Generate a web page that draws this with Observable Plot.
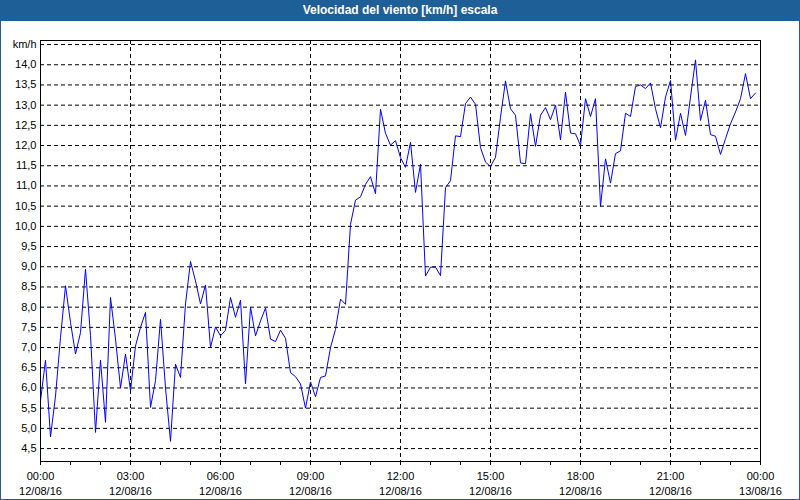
<!DOCTYPE html>
<html>
<head>
<meta charset="utf-8">
<script src="https://cdn.jsdelivr.net/npm/d3@7"></script>
<script src="https://cdn.jsdelivr.net/npm/@observablehq/plot@0.6"></script>
<style>
  html, body { margin: 0; padding: 0; background: #ffffff; }
  #wrap { position: relative; width: 800px; height: 500px; overflow: hidden; background: #ffffff; }
  #title { position: absolute; left: 0; top: 0; width: 800px; height: 21px; background: #1f5f97;
           color: #ffffff; font: bold 12px "Liberation Sans", Arial, sans-serif; text-align: center; line-height: 21px; }
  #chart { position: absolute; left: 0; top: 20px; }
  #border { position: absolute; left: 0; top: 0; width: 798px; height: 498px; border: 1px solid #1f5f97; pointer-events: none; }
</style>
</head>
<body>
<div id="wrap">
  <div id="title">Velocidad del viento [km/h] escala</div>
  <div id="chart"></div>
  <div id="border"></div>
</div>
<script>
// Series start and sampling step (10 minutes)
const startTime = "2016-08-12T00:00:00Z";
const endTime = "2016-08-13T00:00:00Z";
const stepMinutes = 10;

// Wind speed (km/h), one value every 10 minutes from 00:00 to 23:50
const windSpeed = [
  5.68, 6.69, 4.79, 5.80, 7.25, 8.53, 7.62, 6.84, 7.37, 8.94, 7.30, 4.90,
  6.69, 5.15, 8.24, 7.21, 6.00, 6.84, 5.93, 7.04, 7.50, 7.87, 5.52, 6.18,
  7.70, 6.00, 4.68, 6.59, 6.26, 8.08, 9.13, 8.65, 8.08, 8.55, 7.00, 7.51,
  7.29, 7.43, 8.24, 7.75, 8.17, 6.10, 8.00, 7.29, 7.66, 7.98, 7.21, 7.15,
  7.43, 7.23, 6.38, 6.28, 6.10, 5.50, 6.15, 5.78, 6.26, 6.30, 7.00, 7.45,
  8.20, 8.07, 10.05, 10.65, 10.73, 11.04, 11.23, 10.81, 12.90, 12.30, 12.01, 12.12,
  11.70, 11.46, 12.08, 10.84, 11.54, 8.77, 8.99, 8.99, 8.78, 10.96, 11.13, 12.24,
  12.22, 13.04, 13.20, 13.02, 11.95, 11.59, 11.48, 11.71, 12.70, 13.60, 12.91, 12.75,
  11.57, 11.55, 12.79, 11.98, 12.75, 12.94, 12.64, 13.00, 12.14, 13.32, 12.31, 12.29,
  12.00, 13.16, 12.72, 13.16, 10.49, 11.67, 11.07, 11.80, 11.87, 12.80, 12.72, 13.46,
  13.50, 13.41, 13.55, 12.91, 12.44, 13.20, 13.61, 12.13, 12.80, 12.25, 13.20, 14.12,
  12.62, 13.12, 12.27, 12.23, 11.78, 12.17, 12.54, 12.83, 13.16, 13.78, 13.16, 13.30
];

// Axis ticks
const yTicks = [4.5, 5.0, 5.5, 6.0, 6.5, 7.0, 7.5, 8.0, 8.5, 9.0, 9.5, 10.0, 10.5, 11.0, 11.5, 12.0, 12.5, 13.0, 13.5, 14.0, 14.5];
const yUnitLabel = "km/h";
const xMajorHours = [0, 3, 6, 9, 12, 15, 18, 21, 24];
const xMinorHours = [0, 1, 2, 3, 4, 5, 6, 7, 8, 9, 10, 11, 12, 13, 14, 15, 16, 17, 18, 19, 20, 21, 22, 23, 24];

const t0 = new Date(startTime);
const t1 = new Date(endTime);
const hourDate = h => new Date(t0.getTime() + h * 3600000);
const data = windSpeed.map((v, i) => ({ time: new Date(t0.getTime() + i * stepMinutes * 60000), speed: v }));

const pad = n => String(n).padStart(2, "0");
const xFmt = d => `${pad(d.getUTCHours())}:${pad(d.getUTCMinutes())}\n${pad(d.getUTCDate())}/${pad(d.getUTCMonth() + 1)}/${pad(d.getUTCFullYear() % 100)}`;
const yFmt = v => v === 14.5 ? yUnitLabel : v.toFixed(1).replace(".", ",");

const majorDates = xMajorHours.map(hourDate);
const minorDates = xMinorHours.map(hourDate);
const gridDates = majorDates.slice(1, -1);

const chart = Plot.plot({
  width: 800,
  height: 480,
  marginTop: 20,
  marginBottom: 39,
  marginLeft: 40,
  marginRight: 40,
  style: { fontFamily: "'Liberation Sans', Arial, sans-serif", fontSize: "11px", background: "transparent", color: "#000" },
  x: { type: "utc", domain: [t0, t1] },
  y: { domain: [4.18, 14.6] },
  marks: [
    Plot.ruleY(yTicks, { stroke: "#000", strokeDasharray: "4,3", strokeWidth: 1 }),
    Plot.ruleX(gridDates, { stroke: "#000", strokeDasharray: "4,3", strokeWidth: 1 }),
    Plot.axisY({ ticks: yTicks, tickFormat: yFmt, tickSize: 0, tickPadding: 4, label: null, fill: "#000" }),
    Plot.axisX({ ticks: minorDates, tickFormat: () => "", tickSize: 4, label: null, stroke: "#000" }),
    Plot.axisX({ ticks: majorDates, tickFormat: xFmt, tickSize: 4, tickPadding: 4, lineHeight: 1.35, label: null, stroke: "#000", fill: "#000" }),
    Plot.line(data, { x: "time", y: "speed", stroke: "#0000ff", strokeWidth: 1 }),
    Plot.frame({ stroke: "#000", strokeWidth: 1 })
  ]
});
document.getElementById("chart").appendChild(chart);
</script>
</body>
</html>
